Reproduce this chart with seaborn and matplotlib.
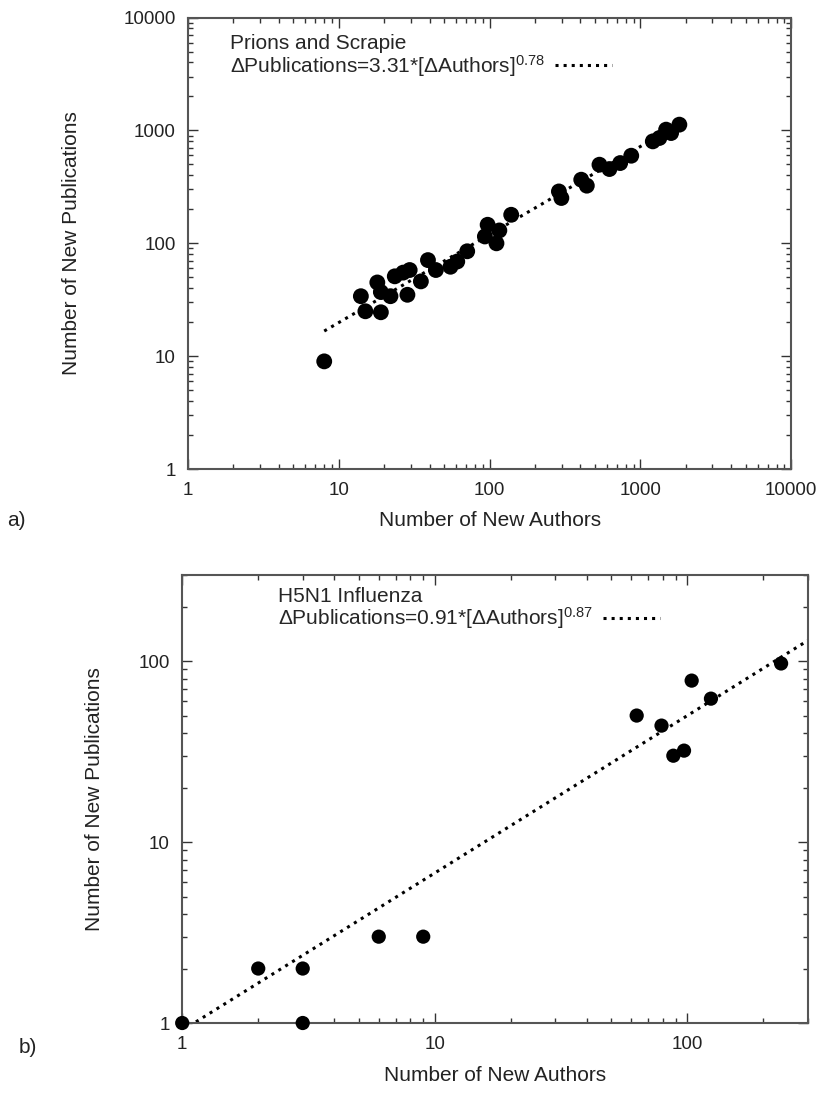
import seaborn as sns
import matplotlib.pyplot as plt
from matplotlib import ticker

# a) Prions and Scrapie
prion_authors = [8, 14, 15, 19, 18, 19, 22, 23.5, 28.5, 26.7, 29.5, 35, 39, 44, 55, 61, 71,
                 93, 97, 111, 116, 139, 288, 299, 405, 441, 535, 623, 734, 869,
                 1208, 1336, 1480, 1597, 1812]
prion_pubs = [9, 34, 25, 24.5, 45, 37, 34, 51, 35, 55, 58, 46, 71, 58, 62, 69, 85,
              115, 146, 100, 130, 179, 288, 252, 366, 324, 497, 455, 514, 597,
              800, 857, 1016, 948, 1125]
prion_fit_x = [8, 1800]
prion_fit_y = [16.7, 1140]

# b) H5N1 Influenza
flu_authors = [1, 2, 3, 3, 6, 9, 63, 79, 88, 97, 104, 124, 235]
flu_pubs = [1, 2, 2, 1, 3, 3, 50, 44, 30, 32, 78, 62, 97]
flu_fit_x = [1, 300]
flu_fit_y = [0.91, 130]

ticks_a = [1, 10, 100, 1000, 10000]
ticks_b = [1, 10, 100]

sns.set_theme(style='ticks')
plt.rcParams['font.family'] = ['Liberation Sans', 'DejaVu Sans']
plt.rcParams['mathtext.fontset'] = 'custom'
plt.rcParams['mathtext.rm'] = 'Liberation Sans'
plt.rcParams['mathtext.it'] = 'Liberation Sans:italic'
plt.rcParams['mathtext.bf'] = 'Liberation Sans:bold'

fig = plt.figure(figsize=(8.32, 10.96), dpi=100)
ax1 = fig.add_axes([0.226, 0.572, 0.725, 0.412])
ax2 = fig.add_axes([0.219, 0.0666, 0.752, 0.409])


def panel(ax, xs, ys, fx, fy, size, title, label, lims, ticks, ylab_x, xlab_y, leg_xy):
    ax.set_xscale('log')
    ax.set_yscale('log')
    sns.lineplot(x=fx, y=fy, ax=ax, color='black', lw=2.2, ls=':', label=label)
    sns.scatterplot(x=xs, y=ys, ax=ax, color='black', s=size, edgecolor='none',
                    clip_on=False, zorder=3)
    ax.set_xlim(*lims[0])
    ax.set_ylim(*lims[1])
    ax.set_xticks(ticks[0])
    ax.set_yticks(ticks[1])
    fmt = ticker.FuncFormatter(lambda v, p: f'{v:g}')
    ax.xaxis.set_major_formatter(fmt)
    ax.yaxis.set_major_formatter(fmt)
    ax.xaxis.set_minor_formatter(ticker.NullFormatter())
    ax.yaxis.set_minor_formatter(ticker.NullFormatter())
    ax.tick_params(which='both', direction='in', top=True, right=True,
                   color='#333333', width=1, labelsize=13.5, labelcolor='#222222', pad=9)
    ax.tick_params(which='major', length=7)
    ax.tick_params(which='minor', length=3.5)
    for s in ax.spines.values():
        s.set_color('#555555')
        s.set_linewidth(1.5)
    ax.set_xlabel('Number of New Authors', fontsize=15, color='#222222')
    ax.set_ylabel('Number of New Publications', fontsize=15, color='#222222')
    ax.yaxis.set_label_coords(ylab_x, 0.5)
    ax.xaxis.set_label_coords(0.5, xlab_y)
    h, l = ax.get_legend_handles_labels()
    ax.legend(h, l, title=title, loc='upper left', bbox_to_anchor=leg_xy,
              frameon=False, markerfirst=False, handlelength=2.75, alignment='left',
              fontsize=15, title_fontsize=15, borderpad=0, handletextpad=0.5,
              labelspacing=0)


panel(ax1, prion_authors, prion_pubs, prion_fit_x, prion_fit_y, 130,
      'Prions and Scrapie', 'ΔPublications=3.31*[ΔAuthors]$^{0.78}$',
      [(1, 10000), (1, 10000)], [ticks_a, ticks_a], -0.177, -0.093, (0.052, 0.987))
panel(ax2, flu_authors, flu_pubs, flu_fit_x, flu_fit_y, 105,
      'H5N1 Influenza', 'ΔPublications=0.91*[ΔAuthors]$^{0.87}$',
      [(1, 300), (1, 300)], [ticks_b, ticks_b], -0.125, -0.096, (0.136, 0.997))

fig.text(0.008, 0.525, 'a)', fontsize=15, color='#222222', va='center')
fig.text(0.022, 0.044, 'b)', fontsize=15, color='#222222', va='center')

fig.savefig('out.png', dpi=100)
